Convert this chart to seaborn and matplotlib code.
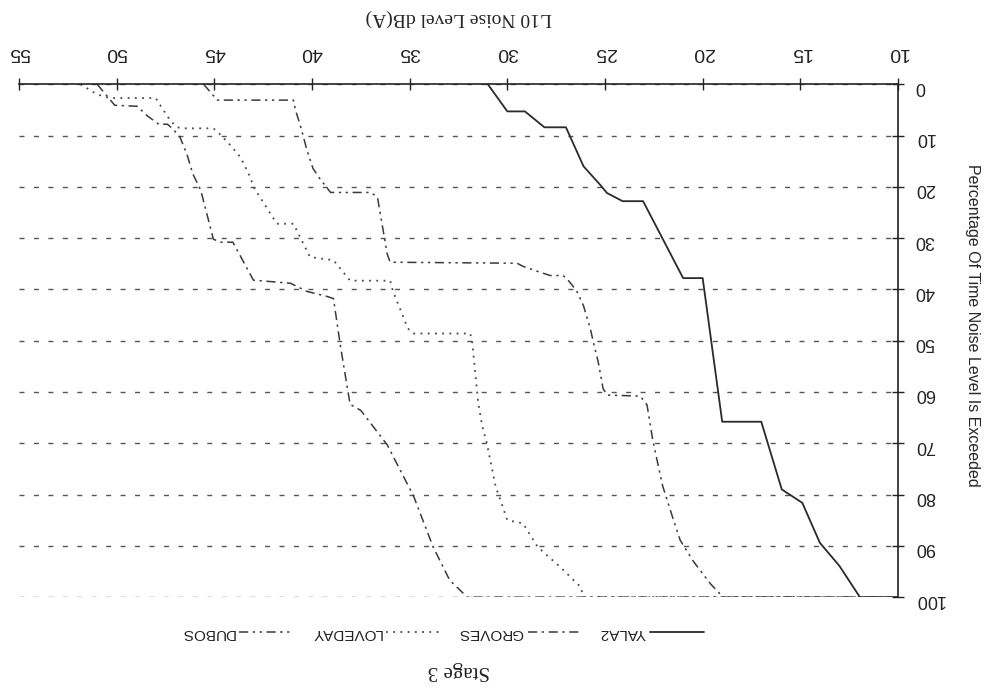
import matplotlib
matplotlib.use("Agg")
import matplotlib.pyplot as plt
import seaborn as sns
import pandas as pd

# ---- data ----
series_names = ["YALA2", "GROVES", "LOVEDAY", "DUBOS"]

yala2_db = [31.0, 30.0, 29.1, 28.1, 27.0, 26.1, 25.25, 24.9, 24.1, 23.05,
            21.0, 20.0, 19.0, 17.0, 15.95, 14.9, 14.0, 13.0, 11.95, 10.0]
yala2_pct = [0, 5.3, 5.3, 8.4, 8.4, 16.0, 19.6, 21.2, 22.8, 22.8,
             37.8, 37.8, 65.8, 65.8, 79.0, 81.6, 89.4, 93.9, 100, 100]

groves_db = [51.0, 50.1, 48.95, 48.45, 47.85, 47.4, 47.1, 46.75, 46.4, 46.1,
             45.7, 45.05, 44.7, 44.05, 43.0, 41.1, 40.25, 39.2, 38.9, 38.55,
             38.05, 37.5, 36.15, 34.8, 33.8, 32.95, 32.05, 10.0]
groves_pct = [0, 4.1, 4.3, 6.1, 7.8, 7.8, 8.8, 10.4, 13.7, 17.5,
              20.6, 30.2, 30.8, 30.8, 38.2, 38.8, 40.4, 41.4, 41.8, 50.9,
              62.4, 63.6, 70.3, 80.3, 90.2, 96.7, 100, 100]

loveday_db = [51.85, 51.0, 50.35, 48.0, 47.6, 47.25, 46.9, 46.6, 45.05, 44.8,
              44.2, 43.65, 43.15, 43.0, 41.8, 40.95, 40.1, 38.9, 38.05, 36.0,
              35.85, 35.5, 35.1, 34.8, 31.9, 31.8, 31.65, 31.5, 31.3, 31.05,
              30.6, 30.0, 29.2, 28.45, 27.3, 26.25, 26.1, 10.0]
loveday_pct = [0, 2.0, 2.7, 2.7, 5.1, 7.1, 8.4, 8.6, 8.6, 9.4,
               11.8, 14.3, 18.2, 20.0, 27.2, 27.2, 33.7, 34.3, 38.3, 38.3,
               40.4, 43.7, 47.6, 48.6, 48.6, 50.2, 56.0, 61.8, 66.4, 70.0,
               78.4, 85.0, 85.6, 90.2, 94.1, 98.0, 100, 100]

dubos_db = [45.55, 44.85, 40.95, 40.85, 40.6, 40.45, 40.25, 39.95, 39.6, 39.05,
            37.0, 36.65, 36.15, 36.0, 29.5, 29.2, 28.45, 27.8, 27.15, 26.95,
            26.45, 26.1, 25.75, 25.6, 25.35, 25.1, 24.9, 23.2, 22.85, 22.55,
            22.05, 21.5, 21.15, 20.5, 19.6, 18.95, 10.0]
dubos_pct = [0, 3.1, 3.1, 5.0, 8.0, 10.1, 13.0, 16.4, 18.4, 21.1,
             21.1, 22.0, 33.1, 34.7, 34.9, 35.5, 36.5, 37.3, 37.3, 37.9,
             40.3, 43.2, 47.7, 50.2, 54.1, 59.3, 60.6, 60.8, 62.5, 69.5,
             78.3, 84.9, 88.9, 92.9, 97.4, 100, 100]

x_ticks = [10, 15, 20, 25, 30, 35, 40, 45, 50, 55]
y_ticks = [0, 10, 20, 30, 40, 50, 60, 70, 80, 90, 100]

x_label = "L10 Noise Level dB(A)"
y_label = "Percentage Of Time Noise Level Is Exceeded"
title = "Stage 3"

series_data = {
    "YALA2": (yala2_db, yala2_pct),
    "GROVES": (groves_db, groves_pct),
    "LOVEDAY": (loveday_db, loveday_pct),
    "DUBOS": (dubos_db, dubos_pct),
}

line_styles = {
    "YALA2": dict(color="#2a2a2a", linewidth=1.3, linestyle="-"),
    "GROVES": dict(color="#3a3a3a", linewidth=1.1, linestyle=(0, (6, 3, 1.5, 3))),
    "LOVEDAY": dict(color="#454545", linewidth=1.3, linestyle=(0, (1, 3))),
    "DUBOS": dict(color="#3a3a3a", linewidth=1.1, linestyle=(0, (6, 3, 1.5, 3, 1.5, 3))),
}

# ---- style ----
sns.set_theme(style="white")
plt.rcParams['font.family'] = ['Liberation Sans', 'DejaVu Sans']
plt.rcParams['text.color'] = '#222222'
plt.rcParams['xtick.color'] = '#222222'
plt.rcParams['ytick.color'] = '#222222'

fig = plt.figure(figsize=(10, 6.96), dpi=100)
fig.patch.set_facecolor("white")
ax = fig.add_axes([0.019, 0.142, 0.879, 0.737])
ax.set_facecolor("white")

lines = {}
for name in series_names:
    xs, ys = series_data[name]
    df = pd.DataFrame({"db": xs, "pct": ys})
    sns.lineplot(data=df, x="db", y="pct", ax=ax, sort=False, estimator=None,
                 legend=False, **line_styles[name])
    lines[name] = ax.lines[-1]

# axes: upside-down page
ax.set_xlim(55, 10)
ax.set_ylim(100, 0)

ax.set_axisbelow(True)
ax.yaxis.grid(True, linestyle=(0, (3.6, 6.8)), color="#555555", linewidth=1.0)
ax.xaxis.grid(False)

for side in ["left", "bottom"]:
    ax.spines[side].set_visible(False)
for side in ["top", "right"]:
    ax.spines[side].set_visible(True)
    ax.spines[side].set_color("#222222")
    ax.spines[side].set_linewidth(1.2)

ax.xaxis.tick_top()
ax.set_xticks(x_ticks)
ax.set_xticklabels([str(v) for v in x_ticks], rotation=180, fontsize=14)
ax.tick_params(axis="x", direction="inout", length=8, width=1, pad=13,
               top=True, bottom=False, labeltop=True, labelbottom=False,
               color="#222222")

ax.yaxis.tick_right()
ax.set_yticks(y_ticks)
ax.set_yticklabels([str(v) for v in y_ticks], rotation=180, fontsize=13)
ax.tick_params(axis="y", direction="inout", length=8, width=1, pad=8,
               right=True, left=False, labelright=True, labelleft=False,
               color="#222222")

ax.xaxis.set_label_position("top")
ax.set_xlabel(x_label, rotation=180, fontsize=14,
              family=["Liberation Serif", "DejaVu Serif"])
ax.xaxis.set_label_coords(0.5, 1.1306)
ax.xaxis.label.set_verticalalignment("center")

ax.yaxis.set_label_position("right")
ax.set_ylabel(y_label, rotation=270, fontsize=11.5,
              family=["Liberation Sans", "DejaVu Sans"])
ax.yaxis.set_label_coords(1.085, 0.53)
ax.yaxis.label.set_verticalalignment("center")
ax.yaxis.label.set_horizontalalignment("center")

ax.set_title(title, rotation=180, fontsize=15, y=-0.160, va="center",
             family=["Liberation Serif", "DejaVu Serif"])

order = list(reversed(series_names))
leg = fig.legend([lines[n] for n in order], order, loc="center",
                 bbox_to_anchor=(0.442, 0.0905), ncol=4, frameon=False,
                 markerfirst=False, handlelength=3.5, handletextpad=0.3,
                 columnspacing=1.2, fontsize=11)
for t in leg.get_texts():
    t.set_rotation(180)

fig.savefig("out.png", dpi=100, facecolor="white")
